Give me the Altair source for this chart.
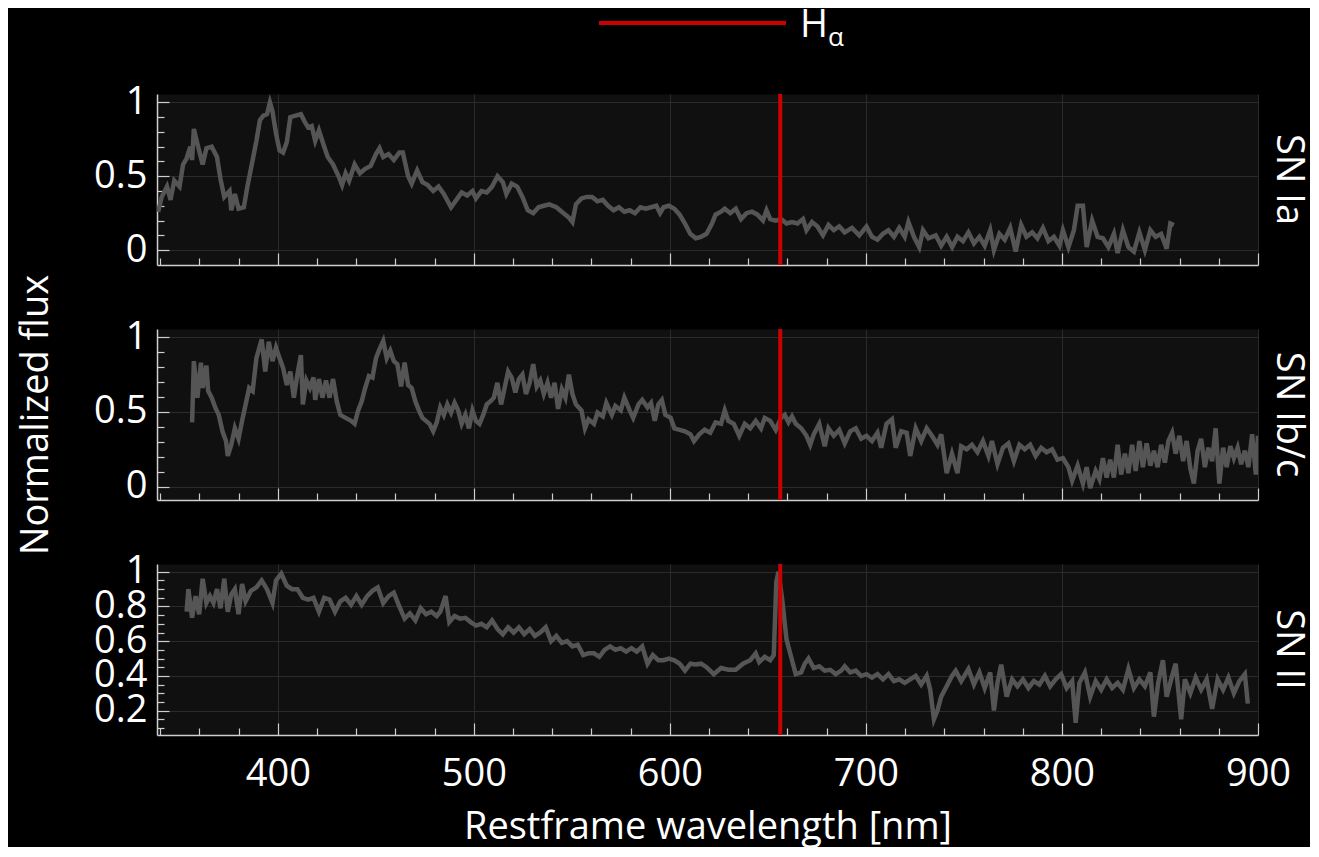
import altair as alt
import pandas as pd

# ---------------- data ----------------
panel_names = ["SN Ia", "SN Ib/c", "SN II"]
halpha_nm = [656.3]
legend_parts = ["H", "α"]

ia_wl = [339, 340.8, 343.5, 345.3, 347.2, 349.9, 351.7, 353.5, 355.4, 356.3, 357.2, 359, 361.7, 363.6, 366.3,
         369, 370.8, 372.7, 375.4, 376.3, 378.1, 380, 382.7, 384.5, 387.2, 389.1, 390.9, 392.7, 394.5, 396,
         397.3, 399.1, 400.9, 402.7, 404.6, 406.4, 409.1, 411.8, 413.7, 415.5, 417.3, 419.1, 421, 423.7, 425.5,
         428.2, 431, 432.8, 434.6, 436.4, 439.2, 441.9, 444.6, 447.4, 450.1, 451.9, 453.8, 456.5, 459.2, 462,
         463.8, 466.5, 468.3, 471.1, 473.8, 476.5, 479.3, 482, 484.7, 488.4, 491.1, 493.8, 496.6, 499.3, 501.1,
         503.9, 506.6, 509.3, 512.1, 514.8, 516.6, 519.3, 522.1, 524.8, 527.5, 530.3, 533, 535.7, 538.5, 542.1,
         545.8, 548.5, 550.3, 552.1, 554.9, 557.6, 560.3, 563.1, 565.8, 568.5, 571.3, 574, 576.8, 579.5, 582.2,
         585, 587.7, 590.4, 593.1, 595, 596.8, 599.5, 602.3, 605, 607.7, 610.4, 613.2, 615.9, 618.7, 621.5,
         623.3, 626.1, 628, 630.8, 633.6, 636.3, 639.1, 641.9, 644.7, 647.5, 649.3, 651.2, 654, 656.7, 659.5,
         662.3, 665.1, 667.9, 669.7, 672.5, 675.3, 678.1, 680.9, 683.6, 686.4, 689.2, 692.9, 696.6, 700.3, 703.1,
         705.9, 708.7, 711.5, 714.3, 717, 719.8, 721.7, 724.5, 727.2, 729.1, 731.9, 735.6, 738.4, 741.2, 744,
         746.7, 749.5, 752.3, 755.1, 757.9, 760.6, 763.4, 765.3, 768.1, 770.8, 773.6, 776.4, 779.2, 781.9, 784.8,
         787.5, 790.3, 793.1, 795.9, 798.7, 800.5, 803.3, 806.1, 808, 810.7, 812.6, 815.4, 818.2, 820.9, 823.7,
         826.5, 828.4, 831.1, 833.9, 836.7, 839.5, 842.3, 845.1, 847.8, 850.6, 853.4, 855.3, 857.1]
ia_flux = [0.26, 0.36, 0.43, 0.34, 0.47, 0.43, 0.58, 0.62, 0.70, 0.61, 0.82, 0.72, 0.58, 0.69, 0.70,
           0.63, 0.48, 0.36, 0.40, 0.27, 0.38, 0.28, 0.29, 0.43, 0.61, 0.74, 0.88, 0.91, 0.92, 1.0,
           0.94, 0.79, 0.675, 0.66, 0.73, 0.90, 0.91, 0.92, 0.87, 0.83, 0.84, 0.74, 0.81, 0.70, 0.63,
           0.58, 0.50, 0.44, 0.52, 0.47, 0.58, 0.52, 0.55, 0.57, 0.65, 0.69, 0.63, 0.65, 0.61, 0.66,
           0.66, 0.50, 0.45, 0.54, 0.46, 0.44, 0.40, 0.43, 0.38, 0.29, 0.34, 0.39, 0.37, 0.40, 0.35,
           0.40, 0.39, 0.43, 0.50, 0.46, 0.38, 0.45, 0.43, 0.36, 0.27, 0.25, 0.29, 0.30, 0.31, 0.29,
           0.25, 0.22, 0.19, 0.31, 0.35, 0.36, 0.36, 0.33, 0.34, 0.30, 0.27, 0.29, 0.26, 0.27, 0.25,
           0.29, 0.28, 0.29, 0.30, 0.25, 0.29, 0.30, 0.28, 0.24, 0.18, 0.11, 0.08, 0.09, 0.11, 0.18,
           0.24, 0.26, 0.28, 0.25, 0.28, 0.21, 0.25, 0.26, 0.24, 0.20, 0.27, 0.21, 0.20, 0.21, 0.18,
           0.19, 0.18, 0.21, 0.135, 0.19, 0.16, 0.10, 0.17, 0.135, 0.16, 0.12, 0.15, 0.10, 0.16, 0.09,
           0.07, 0.11, 0.135, 0.09, 0.15, 0.09, 0.19, 0.09, 0.02, 0.135, 0.08, 0.10, 0.03, 0.09, 0.02,
           0.09, 0.06, 0.12, 0.045, 0.09, 0.03, 0.135, 0.0, 0.11, 0.07, 0.15, -0.01, 0.17, 0.09, 0.12,
           0.08, 0.15, 0.06, 0.09, 0.03, 0.135, 0.02, 0.135, 0.30, 0.30, 0.02, 0.20, 0.09, 0.08, 0.02,
           0.11, -0.02, 0.135, 0.02, -0.01, 0.12, 0.0, 0.135, 0.09, 0.11, 0.01, 0.18, 0.17]

ibc_wl = [356.3, 357.2, 359, 360.8, 361.7, 363.6, 364.5, 366.3, 368.1, 369.9, 371.8, 373.6, 374.5, 376.3, 378.1,
          380, 381.8, 383.6, 385.4, 387.2, 389.1, 391.8, 393.6, 395.4, 397.3, 399.1, 400.9, 402.7, 404.6, 406.4,
          408.2, 410, 411.8, 412.8, 414.6, 416.4, 418.2, 419.1, 421, 422.8, 424.6, 426.4, 428.2, 430.1, 431.9,
          434.6, 437.4, 439.2, 441, 442.8, 444.6, 446.5, 448.3, 450.1, 451.9, 453.8, 455.6, 457.4, 459.2, 461,
          462.9, 464.7, 466.5, 468.3, 470.2, 472, 473.8, 475.6, 477.4, 479.3, 481.1, 482.9, 484.7, 486.5, 488.4,
          490.2, 492, 493.8, 495.7, 497.5, 499.3, 501.1, 502.9, 504.8, 506.6, 508.4, 510.2, 512, 513.9, 515.7,
          517.5, 519.3, 521.2, 523, 524.8, 526.6, 528.5, 530.3, 532.1, 533.9, 535.7, 537.6, 539.4, 541.2, 543,
          544.9, 546.7, 548.5, 550.3, 552.1, 554.9, 556.7, 558.5, 561.3, 563.1, 565.8, 567.6, 570.4, 572.2, 575,
          576.8, 579.5, 581.3, 584, 585.9, 588.6, 590.4, 592.3, 594.1, 595.9, 597.7, 600.4, 602.3, 605, 607.7,
          610.5, 612.3, 615, 617.7, 620.6, 623.3, 626.1, 628, 629.8, 632.6, 635.4, 638.2, 641, 643.8, 646.5,
          648.4, 651.2, 654, 656.7, 658.6, 660.5, 662.3, 664.2, 667, 669.7, 671.6, 673.4, 676.2, 679, 680.9,
          683.6, 686.4, 689.2, 692, 694.8, 697.6, 700.3, 703.1, 705.9, 707.8, 710.5, 713.3, 715.2, 718, 720.8,
          722.6, 725.4, 728.2, 731, 733.7, 736.5, 738.4, 741.2, 743.9, 746.7, 748.6, 751.4, 754.1, 756.9, 759.7,
          762.5, 764.3, 767.1, 769.9, 772.7, 775.5, 778.3, 781, 783.8, 786.6, 789.4, 792.2, 795, 797.7, 800.5,
          803.3, 805.2, 808, 810.7, 812.6, 814.4, 817.2, 819.1, 820.9, 822.8, 824.6, 826.5, 828.4, 830.2, 832.1,
          833.9, 835.8, 837.6, 839.5, 841.3, 843.2, 845.1, 846.9, 848.8, 850.6, 852.5, 854.3, 856.2, 858, 859.9,
          861.8, 863.6, 865.5, 867.3, 869.2, 871, 872.9, 874.7, 876.6, 878.4, 880.3, 882.2, 884, 885.9, 887.7,
          889.6, 891.4, 893.3, 895.1, 897, 898.9, 900]
ibc_flux = [0.43, 0.84, 0.595, 0.83, 0.66, 0.81, 0.64, 0.595, 0.53, 0.48, 0.37, 0.305, 0.205, 0.28, 0.39,
            0.32, 0.44, 0.55, 0.66, 0.64, 0.86, 0.985, 0.77, 0.97, 0.84, 0.93, 0.86, 0.795, 0.68, 0.77,
            0.595, 0.75, 0.88, 0.55, 0.71, 0.66, 0.73, 0.58, 0.72, 0.595, 0.71, 0.595, 0.72, 0.57, 0.48,
            0.46, 0.44, 0.42, 0.51, 0.57, 0.66, 0.74, 0.73, 0.86, 0.92, 0.975, 0.86, 0.91, 0.84, 0.82,
            0.67, 0.83, 0.68, 0.66, 0.57, 0.51, 0.46, 0.44, 0.42, 0.37, 0.43, 0.53, 0.48, 0.55, 0.495,
            0.56, 0.51, 0.42, 0.48, 0.39, 0.51, 0.44, 0.42, 0.48, 0.55, 0.57, 0.595, 0.695, 0.55, 0.66,
            0.77, 0.73, 0.63, 0.72, 0.75, 0.62, 0.695, 0.82, 0.67, 0.71, 0.62, 0.695, 0.595, 0.695, 0.52,
            0.65, 0.595, 0.75, 0.62, 0.55, 0.51, 0.39, 0.45, 0.42, 0.495, 0.47, 0.56, 0.48, 0.54, 0.51,
            0.595, 0.51, 0.46, 0.55, 0.58, 0.53, 0.56, 0.44, 0.55, 0.58, 0.48, 0.46, 0.39, 0.38, 0.37,
            0.35, 0.305, 0.35, 0.38, 0.36, 0.43, 0.42, 0.51, 0.44, 0.42, 0.34, 0.42, 0.39, 0.44, 0.39,
            0.46, 0.44, 0.38, 0.46, 0.48, 0.43, 0.47, 0.42, 0.39, 0.34, 0.28, 0.35, 0.42, 0.27, 0.39,
            0.34, 0.38, 0.29, 0.37, 0.39, 0.32, 0.34, 0.305, 0.36, 0.26, 0.42, 0.45, 0.26, 0.37, 0.36,
            0.205, 0.39, 0.305, 0.39, 0.34, 0.28, 0.35, 0.09, 0.22, 0.09, 0.27, 0.25, 0.28, 0.23, 0.305,
            0.205, 0.305, 0.15, 0.26, 0.29, 0.17, 0.28, 0.25, 0.28, 0.205, 0.26, 0.23, 0.25, 0.18, 0.19,
            0.13, 0.04, 0.14, 0.02, 0.13, -0.01, 0.105, 0.05, 0.19, 0.06, 0.18, 0.06, 0.28, 0.08, 0.22,
            0.09, 0.28, 0.105, 0.305, 0.13, 0.29, 0.14, 0.24, 0.13, 0.28, 0.16, 0.305, 0.36, 0.22, 0.34,
            0.17, 0.305, 0.12, 0.02, 0.24, 0.32, 0.13, 0.26, 0.17, 0.39, 0.02, 0.26, 0.13, 0.27, 0.19,
            0.26, 0.15, 0.24, 0.13, 0.35, 0.08, 0.34]

ii_wl = [353.5, 354.4, 356.3, 358.1, 359.9, 361.7, 363.6, 365.4, 367.2, 369, 370.8, 372.7, 374.5, 376.3, 378.1,
         380, 381.8, 383.6, 386.3, 389.1, 391.8, 394.5, 397.3, 399.1, 401.8, 404.6, 407.3, 410, 412.8, 415.5,
         418.2, 421, 423.7, 426.4, 429.2, 431.9, 434.6, 437.4, 440.1, 442.8, 445.6, 448.3, 451, 453.8, 456.5,
         459.2, 462, 464.7, 467.4, 470.2, 472.9, 475.6, 478.3, 481.1, 482.9, 485.6, 487.5, 490.2, 492.9, 495.7,
         498.4, 501.1, 503.9, 506.6, 509.3, 512.1, 514.8, 517.5, 520.3, 523, 525.7, 528.5, 531.2, 533.9, 536.7,
         539.4, 542.1, 544.9, 547.6, 550.3, 553, 555.8, 558.5, 561.3, 564, 566.7, 569.5, 572.2, 574.9, 577.7,
         580.4, 583.1, 585.9, 588.6, 591.3, 594.1, 596.8, 599.5, 602.3, 605, 607.7, 610.5, 613.2, 615.9, 618.7,
         622.4, 626.1, 629.8, 633.6, 637.3, 641, 643.8, 645.6, 648.4, 651.2, 653, 654.3, 655.4, 657.3, 659.5,
         662.3, 664.2, 667, 668.8, 670.7, 673.4, 676.2, 679, 681.8, 684.6, 687.4, 689.2, 692, 694.8, 697.6,
         700.3, 703.1, 705.9, 708.7, 711.5, 714.3, 717, 719.8, 722.6, 725.4, 728.2, 731, 732.8, 734.7, 736.5,
         738.4, 741.2, 743.9, 745.8, 748.6, 752.3, 755.1, 757.9, 760.6, 763.4, 765.3, 767.1, 769, 771.8, 774.6,
         777.3, 780.1, 782.9, 785.7, 788.5, 791.3, 794, 796.8, 799.6, 802.4, 805.2, 807, 808.9, 811.7, 814.4,
         817.2, 820, 822.8, 825.6, 828.4, 831.1, 833.9, 836.7, 839.5, 842.3, 845.1, 846.9, 849.1, 851.5, 853.4,
         856.2, 858, 860.8, 862.7, 865.5, 868.2, 871, 873.8, 876.6, 879.4, 882.2, 884.9, 887.7, 890.5, 893.3,
         894.8]
ii_flux = [0.77, 0.90, 0.735, 0.86, 0.755, 0.96, 0.82, 0.86, 0.82, 0.90, 0.79, 0.96, 0.77, 0.87, 0.90,
           0.755, 0.93, 0.83, 0.89, 0.91, 0.95, 0.90, 0.82, 0.95, 0.99, 0.92, 0.90, 0.90, 0.85, 0.84,
           0.85, 0.77, 0.85, 0.84, 0.77, 0.83, 0.85, 0.81, 0.86, 0.81, 0.86, 0.89, 0.91, 0.82, 0.86,
           0.88, 0.80, 0.73, 0.76, 0.72, 0.79, 0.755, 0.77, 0.745, 0.77, 0.86, 0.71, 0.745, 0.73, 0.735,
           0.71, 0.69, 0.70, 0.68, 0.72, 0.67, 0.64, 0.68, 0.65, 0.68, 0.64, 0.67, 0.63, 0.65, 0.68,
           0.60, 0.63, 0.59, 0.60, 0.57, 0.58, 0.52, 0.53, 0.53, 0.51, 0.55, 0.57, 0.55, 0.56, 0.54,
           0.56, 0.54, 0.57, 0.47, 0.52, 0.49, 0.49, 0.50, 0.49, 0.47, 0.43, 0.47, 0.465, 0.47, 0.45,
           0.41, 0.445, 0.435, 0.435, 0.47, 0.49, 0.53, 0.48, 0.51, 0.49, 0.52, 0.94, 1.0, 0.84, 0.61,
           0.49, 0.41, 0.42, 0.47, 0.50, 0.445, 0.455, 0.43, 0.435, 0.41, 0.43, 0.455, 0.42, 0.43, 0.40,
           0.41, 0.39, 0.41, 0.38, 0.41, 0.37, 0.38, 0.36, 0.38, 0.40, 0.35, 0.40, 0.32, 0.15, 0.20,
           0.28, 0.34, 0.40, 0.43, 0.37, 0.44, 0.35, 0.42, 0.33, 0.42, 0.20, 0.36, 0.465, 0.28, 0.38,
           0.34, 0.38, 0.33, 0.37, 0.35, 0.40, 0.34, 0.38, 0.41, 0.33, 0.37, 0.13, 0.36, 0.42, 0.28,
           0.37, 0.32, 0.38, 0.33, 0.36, 0.32, 0.44, 0.33, 0.38, 0.34, 0.42, 0.165, 0.36, 0.49, 0.28,
           0.40, 0.47, 0.15, 0.38, 0.30, 0.39, 0.32, 0.38, 0.21, 0.38, 0.32, 0.39, 0.30, 0.37, 0.41,
           0.24]

x_domain = [338.4, 900]
x_major = [400, 500, 600, 700, 800, 900]
x_minor = [340, 360, 380, 420, 440, 460, 480, 520, 540, 560, 580, 620, 640, 660, 680,
           720, 740, 760, 780, 820, 840, 860, 880]
y_domains = [[-0.101, 1.057], [-0.09, 1.055], [0.059, 1.045]]
y_major = [[0, 0.5, 1], [0, 0.5, 1], [0.2, 0.4, 0.6, 0.8, 1]]
y_minor = [[0.1, 0.2, 0.3, 0.4, 0.6, 0.7, 0.8, 0.9], [0.1, 0.2, 0.3, 0.4, 0.6, 0.7, 0.8, 0.9],
           [0.1, 0.15, 0.25, 0.3, 0.35, 0.45, 0.5, 0.55, 0.65, 0.7, 0.75, 0.85, 0.9, 0.95]]

# ---------------- styling ----------------
FONT = "Open Sans"
W, H = 1101, 171
LINE_COLOR = "#555555"
RED = "#cc0000"
TICK_COLOR = "#cfcfcf"
FS = 38
# right-hand panel labels: the bottom panel's bounds already include half of the "900" label
title_offsets = [10, 10, -22]


def panel(i, wl, flux):
    df = pd.DataFrame({"wl": wl, "flux": flux})
    xs = alt.Scale(domain=x_domain, nice=False, zero=False)
    ys = alt.Scale(domain=y_domains[i], nice=False, zero=False)
    last = i == 2
    middle = i == 1

    x_main = alt.Axis(values=x_major, grid=True, ticks=False, labels=last, domain=True,
                      orient="bottom", labelPadding=20, titlePadding=15, format="d",
                      labelFlush=False, labelOverlap=False)
    y_main = alt.Axis(values=y_major[i], grid=True, ticks=False, domain=True, orient="left",
                      labelPadding=10, titlePadding=38, labelExpr="format(datum.value, '~g')",
                      labelFlush=False, labelOverlap=False)

    base_line = alt.Chart(df).mark_line(color=LINE_COLOR, strokeWidth=4.5, clip=True).encode(
        x=alt.X("wl:Q", scale=xs, axis=x_main,
                title="Restframe wavelength [nm]" if last else None),
        y=alt.Y("flux:Q", scale=ys, axis=y_main,
                title="Normalized flux" if middle else None),
    )

    def tick_layer(xv, yv, size):
        return alt.Chart(df).mark_line(opacity=0).encode(
            x=alt.X("wl:Q", scale=xs, title=None,
                    axis=alt.Axis(values=xv, orient="bottom", offset=-size, tickSize=size,
                                  labels=False, domain=False, grid=False, tickColor=TICK_COLOR,
                                  tickWidth=1.2)),
            y=alt.Y("flux:Q", scale=ys, title=None,
                    axis=alt.Axis(values=yv, orient="left", offset=-size, tickSize=size,
                                  labels=False, domain=False, grid=False, tickColor=TICK_COLOR,
                                  tickWidth=1.2)),
        )

    minor = tick_layer(x_minor, y_minor[i], 7)
    major = tick_layer(x_major, y_major[i], 12)

    halpha = alt.Chart(pd.DataFrame({"wl": halpha_nm})).mark_rule(
        color=RED, strokeWidth=4).encode(x=alt.X("wl:Q", scale=xs, axis=None))

    layers = [base_line, minor, major, halpha]

    if i == 0:
        leg_rule = alt.Chart(pd.DataFrame({"name": ["Hα"]})).mark_rule(
            color=RED, strokeWidth=4).encode(
            x=alt.value(442), x2=alt.value(629), y=alt.value(-71))
        leg_h = alt.Chart(pd.DataFrame({"t": [legend_parts[0]]})).mark_text(
            font=FONT, fontSize=FS, color="white", align="left", baseline="alphabetic").encode(
            text="t:N", x=alt.value(643), y=alt.value(-57))
        leg_a = alt.Chart(pd.DataFrame({"t": [legend_parts[1]]})).mark_text(
            font=FONT, fontSize=26, color="white", align="left", baseline="alphabetic").encode(
            text="t:N", x=alt.value(671), y=alt.value(-48))
        layers += [leg_rule, leg_h, leg_a]

    return alt.layer(*layers).resolve_axis(x="independent", y="independent").properties(
        width=W, height=H,
        title=alt.TitleParams(panel_names[i], orient="right", anchor="middle",
                              fontSize=FS, font=FONT, color="white", fontWeight="normal",
                              offset=title_offsets[i]),
    )


chart = alt.vconcat(
    panel(0, ia_wl, ia_flux),
    panel(1, ibc_wl, ibc_flux),
    panel(2, ii_wl, ii_flux),
    spacing=64, bounds="flush",
).properties(
    background="black",
    padding={"left": 9, "top": -2, "right": 2, "bottom": 0},
).configure_view(
    fill="#101010", stroke="transparent"
).configure_axis(
    domainColor=TICK_COLOR, domainWidth=1.5, gridColor="#2b2b2b", gridWidth=1,
    labelColor="white", titleColor="white", labelFont=FONT, titleFont=FONT,
    labelFontSize=FS, titleFontSize=FS, titleFontWeight="normal",
)

chart.save("out.html", embed_options={"renderer": "svg", "actions": False})
